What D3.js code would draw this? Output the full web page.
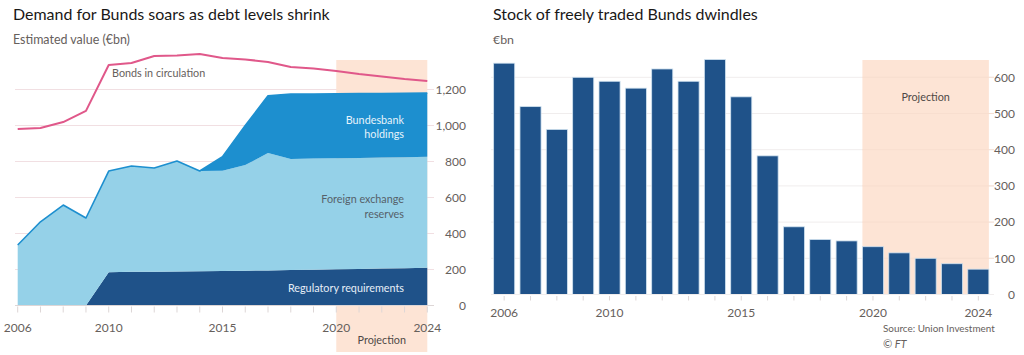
<!DOCTYPE html>
<html><head><meta charset="utf-8">
<script src="https://cdn.jsdelivr.net/npm/d3@7"></script>
<style>
body{margin:0;background:#fff}
svg{display:block}
text{font-family:Lato,"Noto Sans",sans-serif}
</style>
</head><body>
<svg id="c" width="1024" height="355"></svg>
<script>
// ---------- DATA ----------
const years = [2006,2007,2008,2009,2010,2011,2012,2013,2014,2015,2016,2017,2018,2019,2020,2021,2022,2023,2024];
const bondsInCirculation = [980,986,1019,1081,1336,1347,1386,1389,1397,1375,1367,1353,1325,1317,1303,1286,1272,1258,1247];
const regulatoryRequirements = [0,0,0,0,185,187,188,189,190,191,193,195,197,199,201,203,205,207,210];
const foreignExchangeReserves = [336,465,558,486,562,588,576,614,557,558,587,652,617,617,617,617,617,617,616];
const bundesbankHoldings = [0,0,0,0,0,0,0,0,0,78,220,318,361,359,358,357,356,355,354];
const freelyTraded = [639,519,456,600,589,570,623,589,649,546,383,187,152,148,132,115,100,85,70];
const leftYTicks = [0,200,400,600,800,1000,1200];
const rightYTicks = [0,100,200,300,400,500,600];
const xTickLabels = [2006,2010,2015,2020,2024];
const projection = [2020,2024];

// ---------- STYLE ----------
const C = {
  pink:"#e0588a", bb:"#1d8fcf", fx:"#95d1e8", reg:"#1f5289", bar:"#1f5289",
  shade:"#fde4d5", gridL:"#f1dfe2", gridR:"#f0eded", axis:"#ddd6d6",
  label:"#66605c", title:"#1a1817"
};

const svg = d3.select("#c");

function fit(sel, w){
  const l = sel.node().getComputedTextLength();
  const fs = parseFloat(sel.attr("font-size"));
  sel.attr("font-size", (fs*w/l).toFixed(2));
  return sel;
}

// ---------- TITLES ----------
fit(svg.append("text").attr("x",13).attr("y",20).attr("font-size",17).attr("fill",C.title)
  .text("Demand for Bunds soars as debt levels shrink"), 317);
fit(svg.append("text").attr("x",13).attr("y",43.5).attr("font-size",12).attr("fill",C.label)
  .text("Estimated value (€bn)"), 117);
fit(svg.append("text").attr("x",493).attr("y",20).attr("font-size",17).attr("fill",C.title)
  .text("Stock of freely traded Bunds dwindles"), 265);
fit(svg.append("text").attr("x",493).attr("y",43.5).attr("font-size",12).attr("fill",C.label)
  .text("€bn"), 21);

// ---------- LEFT CHART ----------
const xL = d3.scaleLinear().domain([2006,2024]).range([17.7,427.3]);
const yL = d3.scaleLinear().domain([0,1200]).range([305.5,89.5]);
const gL = svg.append("g");

gL.selectAll("line.grid").data(leftYTicks.filter(d=>d>0)).join("line")
  .attr("x1",15).attr("x2",434).attr("y1",d=>yL(d)).attr("y2",d=>yL(d))
  .attr("stroke",C.gridL).attr("stroke-width",1);

gL.append("rect").attr("x",xL(projection[0])).attr("width",xL(projection[1])-xL(projection[0]))
  .attr("y",60).attr("height",352-60).attr("fill",C.shade);

const rows = years.map((yr,i)=>({year:yr, reg:regulatoryRequirements[i], fx:foreignExchangeReserves[i], bb:bundesbankHoldings[i]}));
const stack = d3.stack().keys(["reg","fx","bb"])(rows);
const area = d3.area().x(d=>xL(d.data.year)).y0(d=>yL(d[0])).y1(d=>yL(d[1]));
const fills = {reg:C.reg, fx:C.fx, bb:C.bb};
gL.selectAll("path.area").data(stack).join("path")
  .attr("d",area).attr("fill",d=>fills[d.key]);
gL.append("path").datum(stack[2])
  .attr("d",d3.line().x(d=>xL(d.data.year)).y(d=>yL(d[1])))
  .attr("fill","none").attr("stroke",C.bb).attr("stroke-width",1.6).attr("stroke-linejoin","round");

gL.append("path").datum(years.map((yr,i)=>[yr,bondsInCirculation[i]]))
  .attr("d",d3.line().x(d=>xL(d[0])).y(d=>yL(d[1])))
  .attr("fill","none").attr("stroke",C.pink).attr("stroke-width",2).attr("stroke-linejoin","round");

// axis
gL.append("line").attr("x1",15).attr("x2",434).attr("y1",yL(0)).attr("y2",yL(0)).attr("stroke",C.axis);
gL.selectAll("line.xt").data(years).join("line")
  .attr("x1",d=>xL(d)).attr("x2",d=>xL(d)).attr("y1",yL(0)+1).attr("y2",yL(0)+7)
  .attr("stroke",C.axis);
gL.selectAll("text.xl").data(xTickLabels).join("text")
  .attr("x",d=>xL(d)).attr("y",328).attr("dy","0.35em").attr("text-anchor","middle")
  .attr("font-size",12).attr("fill",C.label).text(d=>d);
gL.selectAll("text.yl").data(leftYTicks).join("text")
  .attr("x",466).attr("y",d=>yL(d)).attr("dy","0.35em").attr("text-anchor","end")
  .attr("font-size",12).attr("fill",C.label).text(d=>d3.format(",")(d));

// labels
const lab = (g,x,y,t,col,anchor)=>g.append("text").attr("x",x).attr("y",y).attr("dy","0.35em")
  .attr("text-anchor",anchor||"end").attr("font-size",10.8).attr("fill",col).text(t);
lab(gL,112,73.5,"Bonds in circulation",C.label,"start");
lab(gL,404,120,"Bundesbank","#e6f3fb");
lab(gL,404,134.5,"holdings","#e6f3fb");
lab(gL,404,199.5,"Foreign exchange","#56616a");
lab(gL,404,214.5,"reserves","#56616a");
lab(gL,404,288,"Regulatory requirements","#e6eef7");
lab(gL,(xL(projection[0])+xL(projection[1]))/2,340,"Projection","#4d4845","middle");

// ---------- RIGHT CHART ----------
const xR = d3.scaleBand().domain(years).range([491,991.5]).paddingInner(0.2).paddingOuter(0.1);
const yR = d3.scaleLinear().domain([0,600]).range([294.5,77.3]);
const gR = svg.append("g");

gR.selectAll("line.grid").data(rightYTicks.filter(d=>d>0)).join("line")
  .attr("x1",491).attr("x2",994).attr("y1",d=>yR(d)).attr("y2",d=>yR(d))
  .attr("stroke",C.gridR);
gR.append("rect").attr("x",xR(projection[0])).attr("width",xR(projection[1])+xR.bandwidth()-xR(projection[0]))
  .attr("y",60).attr("height",yR(0)-60).attr("fill",C.shade);
gR.selectAll("line.grid2").data(rightYTicks.filter(d=>d>0)).join("line")
  .attr("x1",xR(projection[0])).attr("x2",994).attr("y1",d=>yR(d)).attr("y2",d=>yR(d))
  .attr("stroke","#f6dccd").attr("stroke-width",0.8);
gR.selectAll("rect.bar").data(years.map((yr,i)=>({year:yr,v:freelyTraded[i]}))).join("rect")
  .attr("x",d=>xR(d.year)).attr("width",xR.bandwidth())
  .attr("y",d=>yR(d.v)).attr("height",d=>yR(0)-yR(d.v))
  .attr("fill",C.bar).attr("stroke","#cfe1ef").attr("stroke-width",0.8);
gR.append("line").attr("x1",491).attr("x2",994).attr("y1",yR(0)).attr("y2",yR(0)).attr("stroke",C.gridR);
gR.selectAll("line.xt").data(years).join("line")
  .attr("x1",d=>xR(d)+xR.bandwidth()/2).attr("x2",d=>xR(d)+xR.bandwidth()/2)
  .attr("y1",yR(0)+1.5).attr("y2",yR(0)+6).attr("stroke",C.axis);
gR.selectAll("text.xl").data(xTickLabels).join("text")
  .attr("x",d=>xR(d)+xR.bandwidth()/2).attr("y",313).attr("dy","0.35em").attr("text-anchor","middle")
  .attr("font-size",12).attr("fill",C.label).text(d=>d);
gR.selectAll("text.yl").data(rightYTicks).join("text")
  .attr("x",1015).attr("y",d=>yR(d)).attr("dy","0.35em").attr("text-anchor","end")
  .attr("font-size",12).attr("fill",C.label).text(d=>d);
lab(gR,(xR(projection[0])+xR(projection[1])+xR.bandwidth())/2,97,"Projection","#4d4845","middle");

// source
fit(svg.append("text").attr("x",883).attr("y",328.5).attr("dy","0.35em").attr("font-size",11)
  .attr("fill",C.label).text("Source: Union Investment"), 112);
svg.append("text").attr("x",883).attr("y",344).attr("dy","0.35em").attr("font-size",11)
  .attr("font-style","italic").attr("fill",C.label).text("© FT");
</script>
</body></html>
